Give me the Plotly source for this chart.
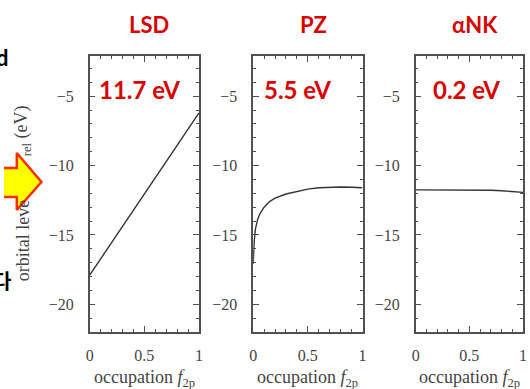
import plotly.graph_objects as go

W, H = 530, 389

# ---- data ----
panel_titles = ["LSD", "PZ", "αNK"]
gap_labels = ["11.7 eV", "5.5 eV", "0.2 eV"]

lsd_f = [0.0, 1.0]
lsd_e = [-17.9, -6.2]

pz_f = [0.0, 0.002, 0.005, 0.01, 0.02, 0.04, 0.06, 0.1, 0.15, 0.2, 0.3, 0.4, 0.5, 0.6, 0.7, 0.8, 0.9, 1.0]
pz_e = [-17.1, -16.5, -16.0, -15.4, -14.6, -13.9, -13.5, -13.0, -12.6, -12.35, -12.05, -11.85, -11.7, -11.6, -11.55, -11.55, -11.56, -11.6]

ank_f = [0.0, 0.2, 0.4, 0.6, 0.7, 0.8, 0.9, 1.0]
ank_e = [-11.75, -11.75, -11.74, -11.76, -11.78, -11.82, -11.87, -11.93]

x_tick_step = 0.5
y_tick_step = 5
x_minor_step = 0.1
y_minor_step = 1
x_label = "occupation <i>f</i><sub>2p</sub>"
y_label_lower = "orbital leve"
y_label_upper = "<sub>rel</sub> (eV)"

# decorative slide arrow outline (pixel coordinates of the page)
arrow_px_x = [-3, 13, 13, 38, 13, 13, -3, -3]
arrow_px_y = [168, 168, 153, 182, 210, 197, 197, 168]

series = [(lsd_f, lsd_e), (pz_f, pz_e), (ank_f, ank_e)]

# ---- layout geometry (pixels) ----
px_left = [87, 253, 418]
px_right = [198, 364, 527]
py_top, py_bot = 56, 332

RED = "#d90000"
AX = "#505050"
TXT = "#444444"
SERIF = "Liberation Serif"

fig = go.Figure()
for i, (f, e) in enumerate(series):
    sfx = "" if i == 0 else str(i + 1)
    fig.add_trace(go.Scatter(x=f, y=e, mode="lines", line=dict(color="#333333", width=1.4),
                             xaxis="x" + sfx, yaxis="y" + sfx, showlegend=False, hoverinfo="skip"))
    xd = [px_left[i] / W, px_right[i] / W]
    yd = [1 - py_bot / H, 1 - py_top / H]
    fig.layout["xaxis" + sfx] = dict(
        domain=xd, range=[0, 1], anchor="y" + sfx, showgrid=False, zeroline=False,
        showline=True, linecolor=AX, linewidth=1.5, mirror="allticks",
        ticks="inside", ticklen=6, tickwidth=1, tickcolor=AX, dtick=x_tick_step,
        minor=dict(dtick=x_minor_step, ticks="inside", ticklen=3),
        tickfont=dict(family=SERIF, size=16, color=TXT), ticklabelstandoff=8)
    fig.layout["yaxis" + sfx] = dict(
        domain=yd, range=[-22, -2.1], anchor="x" + sfx, showgrid=False, zeroline=False,
        showline=True, linecolor=AX, linewidth=1.5, mirror="allticks",
        ticks="inside", ticklen=6, tickwidth=1, tickcolor=AX, dtick=y_tick_step,
        minor=dict(dtick=y_minor_step, ticks="inside", ticklen=3),
        tickfont=dict(family=SERIF, size=16, color=TXT), ticklabelstandoff=11)

# full-page helper axes for the decorative arrow
fig.add_trace(go.Scatter(x=arrow_px_x, y=arrow_px_y, mode="lines", fill="toself",
                         fillcolor="#ffff00", line=dict(color="#ff2a00", width=2.5),
                         xaxis="x4", yaxis="y4", showlegend=False, hoverinfo="skip"))
fig.layout["xaxis4"] = dict(domain=[0, 1], range=[0, W], visible=False, anchor="y4")
fig.layout["yaxis4"] = dict(domain=[0, 1], range=[H, 0], visible=False, anchor="x4")

annotations = []
title_cx = [147, 314, 478]
gap_cx = [138, 298, 470]
for i in range(3):
    annotations.append(dict(x=title_cx[i] / W, y=1 - 25 / H, xref="paper", yref="paper",
                            text="<b>%s</b>" % panel_titles[i], showarrow=False,
                            font=dict(family="Lato", size=22, color=RED), xanchor="center", yanchor="middle"))
    annotations.append(dict(x=gap_cx[i] / W, y=1 - 89 / H, xref="paper", yref="paper",
                            text="<b>%s</b>" % gap_labels[i], showarrow=False,
                            font=dict(family="Lato", size=24, color=RED), xanchor="center", yanchor="middle"))
    cx = (px_left[i] + px_right[i]) / 2
    annotations.append(dict(x=cx / W, y=1 - 378 / H, xref="paper", yref="paper",
                            text=x_label, showarrow=False,
                            font=dict(family=SERIF, size=18, color=TXT), xanchor="center", yanchor="middle"))

# y-axis label (middle part hidden behind the arrow, as in the slide)
annotations.append(dict(x=19 / W, y=1 - 283 / H, xref="paper", yref="paper",
                        text=y_label_lower, textangle=-90, showarrow=False,
                        font=dict(family=SERIF, size=18, color=TXT), xanchor="center", yanchor="bottom"))
annotations.append(dict(x=19 / W, y=1 - 103 / H, xref="paper", yref="paper",
                        text=y_label_upper, textangle=-90, showarrow=False,
                        font=dict(family=SERIF, size=18, color=TXT), xanchor="center", yanchor="top"))
# cut-off slide text
annotations.append(dict(x=7 / W, y=1 - 57 / H, xref="paper", yref="paper", text="<b>d</b>", showarrow=False,
                        font=dict(family="Lato", size=22, color="black"), xanchor="right", yanchor="middle"))
annotations.append(dict(x=9 / W, y=1 - 280 / H, xref="paper", yref="paper", text="<b>다</b>", showarrow=False,
                        font=dict(family="Noto Sans CJK KR", size=20, color="black"), xanchor="right", yanchor="middle"))

fig.update_layout(
    width=W, height=H, margin=dict(l=0, r=0, t=0, b=0),
    paper_bgcolor="white", plot_bgcolor="rgba(0,0,0,0)",
    annotations=annotations,
)

fig.write_html("out.html")
